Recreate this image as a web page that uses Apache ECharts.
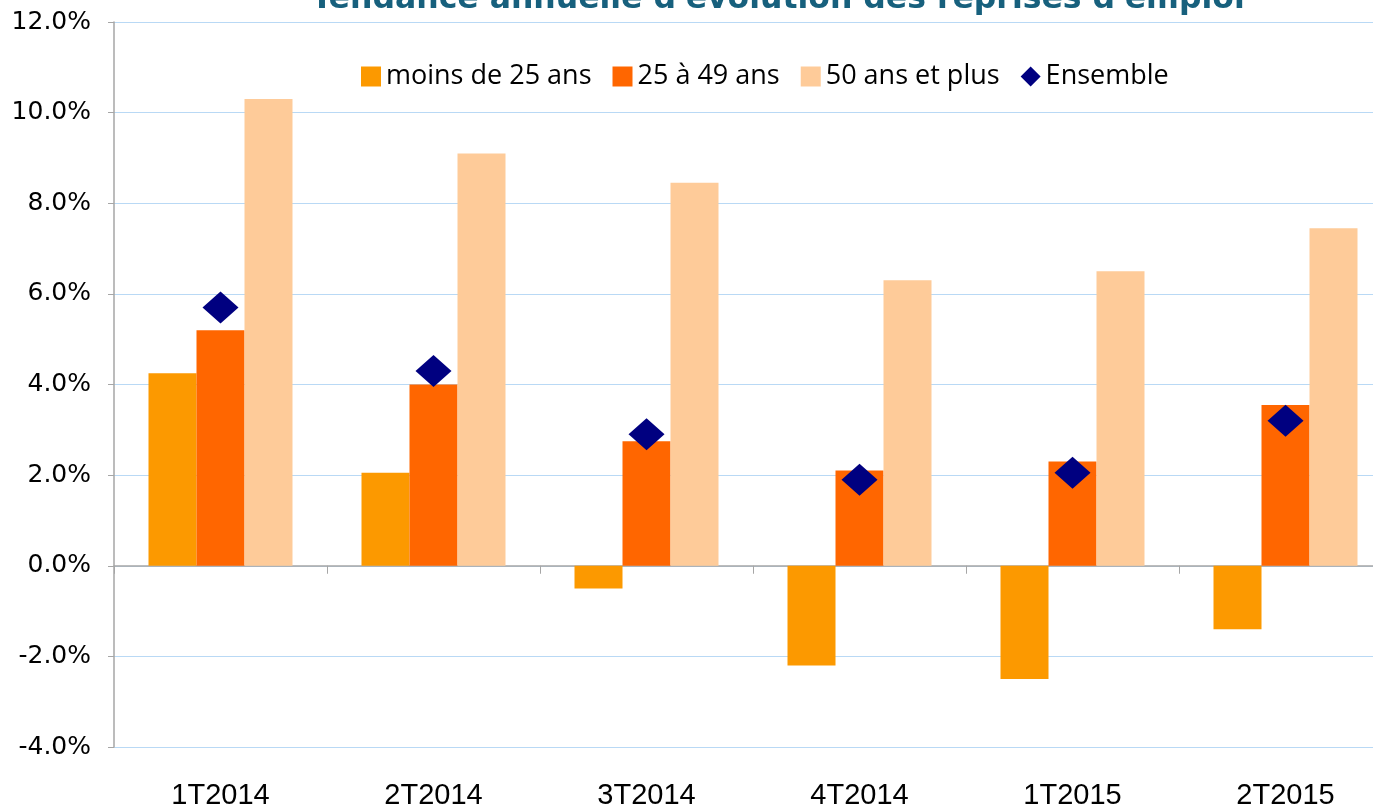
<!DOCTYPE html>
<html>
<head>
<meta charset="utf-8">
<script src="https://cdn.jsdelivr.net/npm/echarts@6/dist/echarts.min.js"></script>
<style>
  html, body { margin: 0; padding: 0; background: #fff; }
  #chart { width: 1373px; height: 809px; }
</style>
</head>
<body>
<div id="chart"></div>
<script>
// trimestres
var categories = ['1T2014', '2T2014', '3T2014', '4T2014', '1T2015', '2T2015'];
// évolution annuelle en %
var moins25 = [4.25, 2.05, -0.5, -2.2, -2.5, -1.4];
var de25a49 = [5.2, 4.0, 2.75, 2.1, 2.3, 3.55];
var plus50 = [10.3, 9.1, 8.45, 6.3, 6.5, 7.45];
var ensemble = [5.7, 4.3, 2.9, 1.9, 2.05, 3.2];
var yTicks = { min: -4, max: 12, interval: 2 };

var chart = echarts.init(document.getElementById('chart'));

var option = {
    backgroundColor: '#fff',
    animation: false,
    title: {
        text: "Tendance annuelle d'évolution des reprises d'emploi",
        left: 773,
        textAlign: 'center',
        top: -21,
        textStyle: {
            color: '#17607D',
            fontSize: 31.5,
            fontWeight: 'bold',
            fontFamily: 'DejaVu Sans, sans-serif'
        }
    },
    legend: {
        left: 356,
        top: 58,
        itemWidth: 20,
        itemHeight: 20,
        itemGap: 21,
        textStyle: {
            fontSize: 27,
            color: '#000',
            fontFamily: 'Open Sans, sans-serif'
        },
        data: [
            { name: 'moins de 25 ans', icon: 'rect' },
            { name: '25 à 49 ans', icon: 'rect' },
            { name: '50 ans et plus', icon: 'rect' },
            { name: 'Ensemble', icon: 'diamond' }
        ]
    },
    grid: {
        left: 114,
        top: 22,
        width: 1278,
        height: 725,
        outerBoundsMode: 'none'
    },
    xAxis: [
        {
            type: 'category',
            data: categories,
            axisLine: { show: false, onZero: false },
            axisTick: { show: false },
            axisLabel: {
                margin: 34,
                fontSize: 29,
                color: '#000',
                fontFamily: 'Liberation Sans Narrow, Liberation Sans, sans-serif'
            }
        },
        {
            type: 'category',
            data: categories,
            position: 'bottom',
            axisLine: { onZero: true, lineStyle: { color: '#A6A6A6', width: 1.5 } },
            axisTick: { show: true, length: 8, lineStyle: { color: '#A6A6A6' } },
            axisLabel: { show: false }
        }
    ],
    yAxis: {
        type: 'value',
        min: yTicks.min,
        max: yTicks.max,
        interval: yTicks.interval,
        axisLine: { show: true, lineStyle: { color: '#A6A6A6', width: 1.5 } },
        axisTick: { show: true, length: 6, lineStyle: { color: '#A6A6A6' } },
        splitLine: { show: true, lineStyle: { color: '#B9D9F5', width: 1 } },
        axisLabel: {
            margin: 23,
            fontSize: 25,
            color: '#000',
            fontFamily: 'DejaVu Sans, sans-serif',
            formatter: function (v) { return v.toFixed(1) + '%'; }
        }
    },
    series: [
        {
            name: 'moins de 25 ans',
            type: 'bar',
            barWidth: 48,
            barGap: '0%',
            itemStyle: { color: '#FC9900' },
            data: moins25
        },
        {
            name: '25 à 49 ans',
            type: 'bar',
            barWidth: 48,
            barGap: '0%',
            itemStyle: { color: '#FF6600' },
            data: de25a49
        },
        {
            name: '50 ans et plus',
            type: 'bar',
            barWidth: 48,
            barGap: '0%',
            itemStyle: { color: '#FECB99' },
            data: plus50
        },
        {
            name: 'Ensemble',
            type: 'scatter',
            symbol: 'diamond',
            symbolSize: [36, 32],
            itemStyle: { color: '#000080', opacity: 1 },
            z: 5,
            data: ensemble
        }
    ]
};

chart.setOption(option);
</script>
</body>
</html>
